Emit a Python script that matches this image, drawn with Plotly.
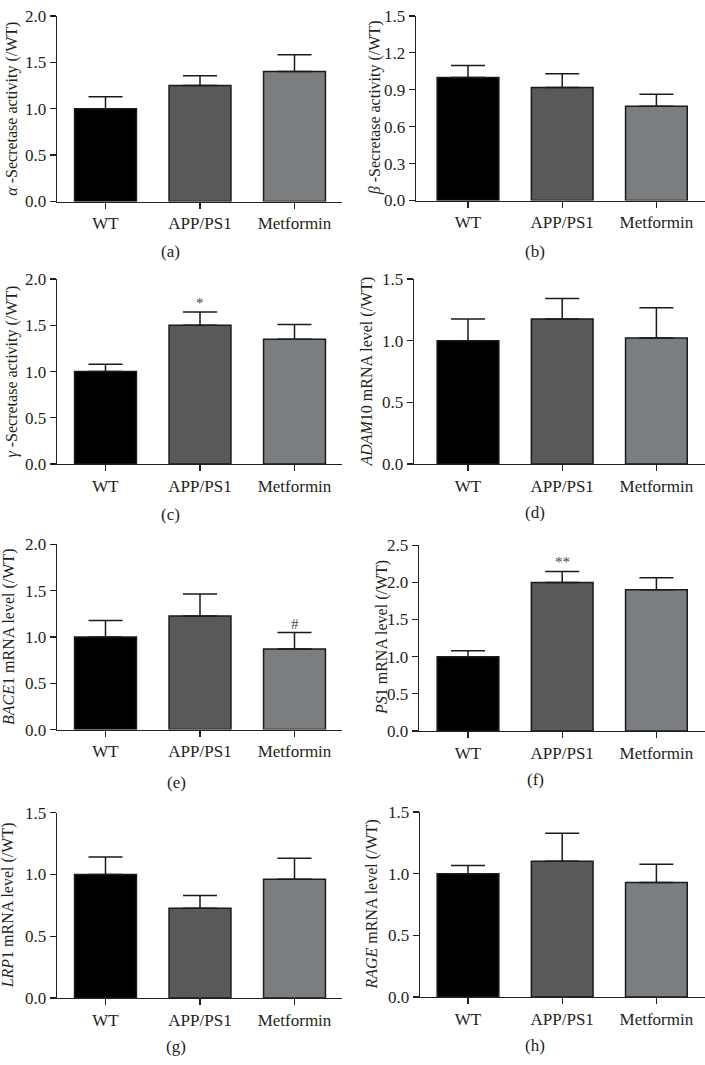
import plotly.graph_objects as go

W, H = 705, 1065

categories = ["WT", "APP/PS1", "Metformin"]
bar_colors = ["#000000", "#58595b", "#7b7e81"]

# means and (upper) SEM for each panel
a_mean = [1.00, 1.25, 1.40]
a_sem = [0.13, 0.105, 0.18]
b_mean = [1.00, 0.918, 0.766]
b_sem = [0.096, 0.112, 0.098]
c_mean = [1.00, 1.50, 1.35]
c_sem = [0.08, 0.145, 0.16]
d_mean = [1.00, 1.176, 1.022]
d_sem = [0.176, 0.167, 0.245]
e_mean = [1.00, 1.227, 0.87]
e_sem = [0.177, 0.236, 0.177]
f_mean = [1.00, 2.00, 1.90]
f_sem = [0.08, 0.147, 0.163]
g_mean = [1.00, 0.726, 0.962]
g_sem = [0.141, 0.104, 0.169]
h_mean = [1.00, 1.102, 0.93]
h_sem = [0.066, 0.226, 0.148]

y_titles = [
    "<i>α</i> -Secretase activity (/WT)",
    "<i>β</i> -Secretase activity (/WT)",
    "<i>γ</i> -Secretase activity (/WT)",
    "<i>ADAM</i>10 mRNA level (/WT)",
    "<i>BACE</i>1 mRNA level (/WT)",
    "<i>PS</i>1 mRNA level (/WT)",
    "<i>LRP</i>1 mRNA level (/WT)",
    "<i>RAGE</i> mRNA level (/WT)",
]
panel_labels = ["(a)", "(b)", "(c)", "(d)", "(e)", "(f)", "(g)", "(h)"]
y_max = [2.0, 1.5, 2.0, 1.5, 2.0, 2.5, 1.5, 1.5]
y_dtick = [0.5, 0.3, 0.5, 0.5, 0.5, 0.5, 0.5, 0.5]

# significance marks: (panel index, category index, text)
sig_marks = [(2, 1, "*"), (4, 2, "#"), (5, 1, "**")]

means = [a_mean, b_mean, c_mean, d_mean, e_mean, f_mean, g_mean, h_mean]
sems = [a_sem, b_sem, c_sem, d_sem, e_sem, f_sem, g_sem, h_sem]

# layout geometry in pixels: (x_axis_left, x_axis_right, y_top, y_baseline)
geom = [
    (57, 342, 7, 196),
    (416, 705, 7, 195),
    (57, 342, 275, 463.3),
    (414, 705, 275, 463.3),
    (57, 342, 545, 733.7),
    (419, 705, 546, 735),
    (57, 342, 818.3, 1007),
    (420, 705, 817.7, 1006),
]
title_x = [12, 375, 12, 367, 9, 382, 8, 372]
label_pos = [(170, 247), (535, 247), (170, 515), (535, 513), (176, 788), (535, 785), (176, 1056), (535, 1055)]

FONT = "Liberation Serif"
TXT = "#231f20"
AX = "#231f20"

fig = go.Figure()
layout = dict(
    width=W, height=H,
    margin=dict(l=0, r=0, t=0, b=0),
    paper_bgcolor="white", plot_bgcolor="white",
    showlegend=False,
    font=dict(family=FONT, color=TXT, size=17),
    bargap=0,
)
annotations = []

for i in range(8):
    n = "" if i == 0 else str(i + 1)
    xl, xr, yt, yb = geom[i]
    left_col = xl < 200
    center0 = 105.5 if left_col else 468.0
    spacing = 94.5 if left_col else 94.2
    r0 = -(center0 - xl) / spacing
    r1 = (xr - center0) / spacing
    fig.add_trace(go.Bar(
        x=categories, y=means[i],
        xaxis="x" + n, yaxis="y" + n,
        width=0.655,
        marker=dict(color=bar_colors, line=dict(color="#1a1a1a", width=1.5)),
        error_y=dict(type="data", symmetric=False, array=sems[i],
                     arrayminus=[0, 0, 0], color="#1a1a1a", thickness=1.5, width=17),
    ))
    layout["xaxis" + n] = dict(
        domain=[xl / W, xr / W], anchor="y" + n,
        range=[r0, r1], type="category",
        showline=True, linecolor=AX, linewidth=1.3,
        ticks="outside", ticklen=6, tickcolor=AX, tickwidth=1.3,
        showgrid=False, zeroline=False,
        tickfont=dict(size=17, family=FONT, color=TXT),
        fixedrange=True,
    )
    layout["yaxis" + n] = dict(
        domain=[1 - yb / H, 1 - yt / H], anchor="x" + n,
        range=[0, y_max[i]], dtick=y_dtick[i], tick0=0, tickformat=".1f",
        showline=True, linecolor=AX, linewidth=1.3,
        ticks="outside", ticklen=6, tickcolor=AX, tickwidth=1.3,
        showgrid=False, zeroline=False,
        tickfont=dict(size=17, family=FONT, color=TXT),
        fixedrange=True,
    )
    annotations.append(dict(
        text=y_titles[i], xref="paper", yref="paper",
        x=title_x[i] / W, y=1 - ((yt + yb) / 2) / H,
        xanchor="center", yanchor="middle", textangle=-90,
        showarrow=False, font=dict(size=16, family=FONT, color=TXT),
    ))
    lx, ly = label_pos[i]
    annotations.append(dict(
        text=panel_labels[i], xref="paper", yref="paper",
        x=lx / W, y=1 - ly / H, xanchor="center", yanchor="middle",
        showarrow=False, font=dict(size=17, family=FONT, color=TXT),
    ))

for (pi, ci, txt) in sig_marks:
    n = "" if pi == 0 else str(pi + 1)
    annotations.append(dict(
        text=txt, xref="x" + n, yref="y" + n,
        x=categories[ci], y=means[pi][ci] + sems[pi][ci],
        xanchor="center", yanchor="bottom", yshift=-1,
        showarrow=False, font=dict(size=15, family=FONT, color="#444444"),
    ))

layout["annotations"] = annotations
fig.update_layout(**layout)
fig.write_html(
    "out.html",
    config={"displayModeBar": False, "staticPlot": True},
    post_script="document.body.style.margin='0';document.body.style.padding='0';",
)
